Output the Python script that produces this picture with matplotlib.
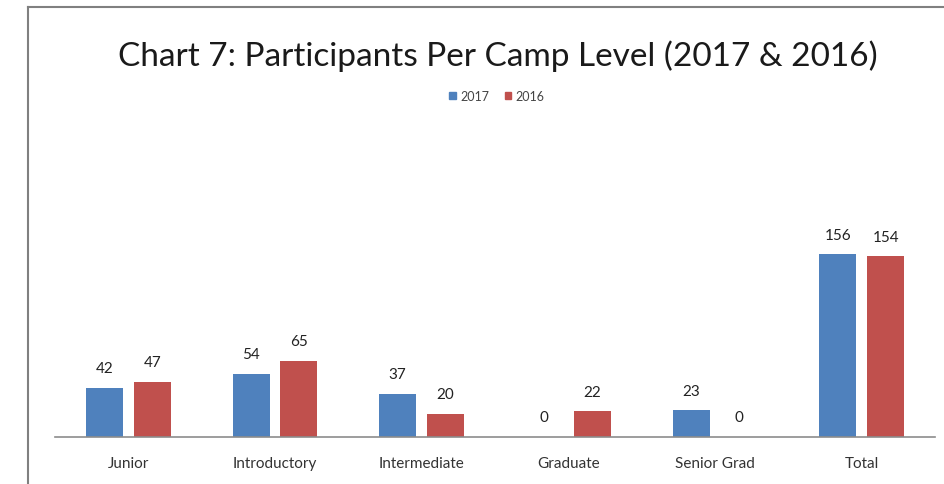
import matplotlib
matplotlib.use("Agg")
import matplotlib.pyplot as plt
from matplotlib.lines import Line2D
import numpy as np

categories = ["Junior", "Introductory", "Intermediate", "Graduate", "Senior Grad", "Total"]
series_names = ["2017", "2016"]
values_2017 = [42, 54, 37, 0, 23, 156]
values_2016 = [47, 65, 20, 22, 0, 154]
colors = ["#4F81BD", "#C0504D"]

plt.rcParams["font.family"] = ["Lato", "DejaVu Sans"]

W, H = 944, 485
fig = plt.figure(figsize=(W / 100, H / 100), dpi=100)
ax = fig.add_axes([55 / W, (H - 438) / H, 880 / W, 211 / H])

x = np.arange(len(categories))
bw = 37 / 146.7
off = 24 / 146.7
b1 = ax.bar(x - off, values_2017, bw, color=colors[0], label=series_names[0])
b2 = ax.bar(x + off, values_2016, bw, color=colors[1], label=series_names[1])
for bars in (b1, b2):
    for r in bars:
        v = r.get_height()
        ax.annotate(f"{int(v)}", (r.get_x() + r.get_width() / 2, v),
                    xytext=(0, 9), textcoords="offset points",
                    ha="center", va="bottom", fontsize=11, color="#222222")

ax.set_xlim(-0.5, len(categories) - 0.5)
ax.set_ylim(0, 180)
ax.set_xticks(x)
ax.set_xticklabels(categories, fontsize=11, color="#333333")
ax.tick_params(axis="x", length=0, pad=14)
ax.set_yticks([])
for s in ["top", "right", "left"]:
    ax.spines[s].set_visible(False)
ax.spines["bottom"].set_color("#8c8c8c")
ax.spines["bottom"].set_linewidth(1.2)

fig.text(498 / W, 1 - 56 / H, "Chart 7: Participants Per Camp Level (2017 & 2016)",
         ha="center", va="center", fontsize=24, color="#1a1a1a")

handles = [plt.Rectangle((0, 0), 1, 1, color=c) for c in colors]
fig.legend(handles, series_names, loc="center", bbox_to_anchor=(497 / W, 1 - 97 / H),
           ncol=2, frameon=False, fontsize=9, handlelength=0.5, handleheight=0.5,
           handletextpad=0.4, columnspacing=1.2, labelcolor="#444444")

fig.add_artist(Line2D([28 / W, 1], [1 - 8 / H, 1 - 8 / H], transform=fig.transFigure,
                      color="#808080", lw=1.5))
fig.add_artist(Line2D([28 / W, 28 / W], [0, 1 - 8 / H], transform=fig.transFigure,
                      color="#808080", lw=1.5))

fig.savefig("out.png", dpi=100)
